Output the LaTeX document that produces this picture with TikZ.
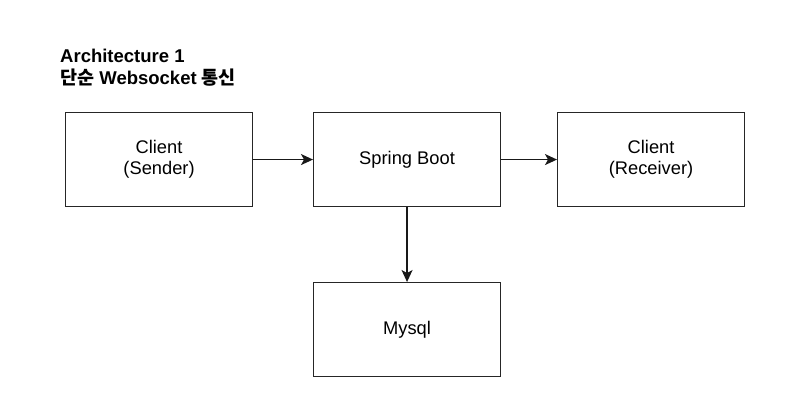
\documentclass[tikz,border=0pt]{standalone}
\usepackage{fontspec}
\setmainfont{Liberation Sans}
\newfontfamily\kofont{Noto Sans CJK KR}
\usetikzlibrary{arrows.meta}
\begin{document}
\begin{tikzpicture}[x=1pt,y=-1pt,
  box/.style={draw=black!85, line width=1.1pt, minimum width=187pt, minimum height=94pt, inner sep=0pt, align=center, font=\fontsize{18.3}{21}\selectfont, anchor=north west},
  conn/.style={draw=black!90, line width=1.3pt, -{Stealth[length=12pt,width=11pt,inset=3pt]}}]
\useasboundingbox (0,0) rectangle (794,408);
\node[anchor=north west, align=left, inner sep=0pt, font=\bfseries\fontsize{18.5}{22}\selectfont] (title) at (60,49) {Architecture 1\\{\kofont\bfseries 단순} Websocket {\kofont\bfseries 통신}};
\node[box] (sender) at (65,112) {Client\\(Sender)};
\node[box] (boot) at (313,112) {Spring Boot};
\node[box] (recv) at (557,112) {Client\\(Receiver)};
\node[box] (mysql) at (313,282) {Mysql};
\draw[conn] (sender) -- (boot);
\draw[conn] (boot) -- (recv);
\draw[conn] (boot) -- (mysql);
\end{tikzpicture}
\end{document}
